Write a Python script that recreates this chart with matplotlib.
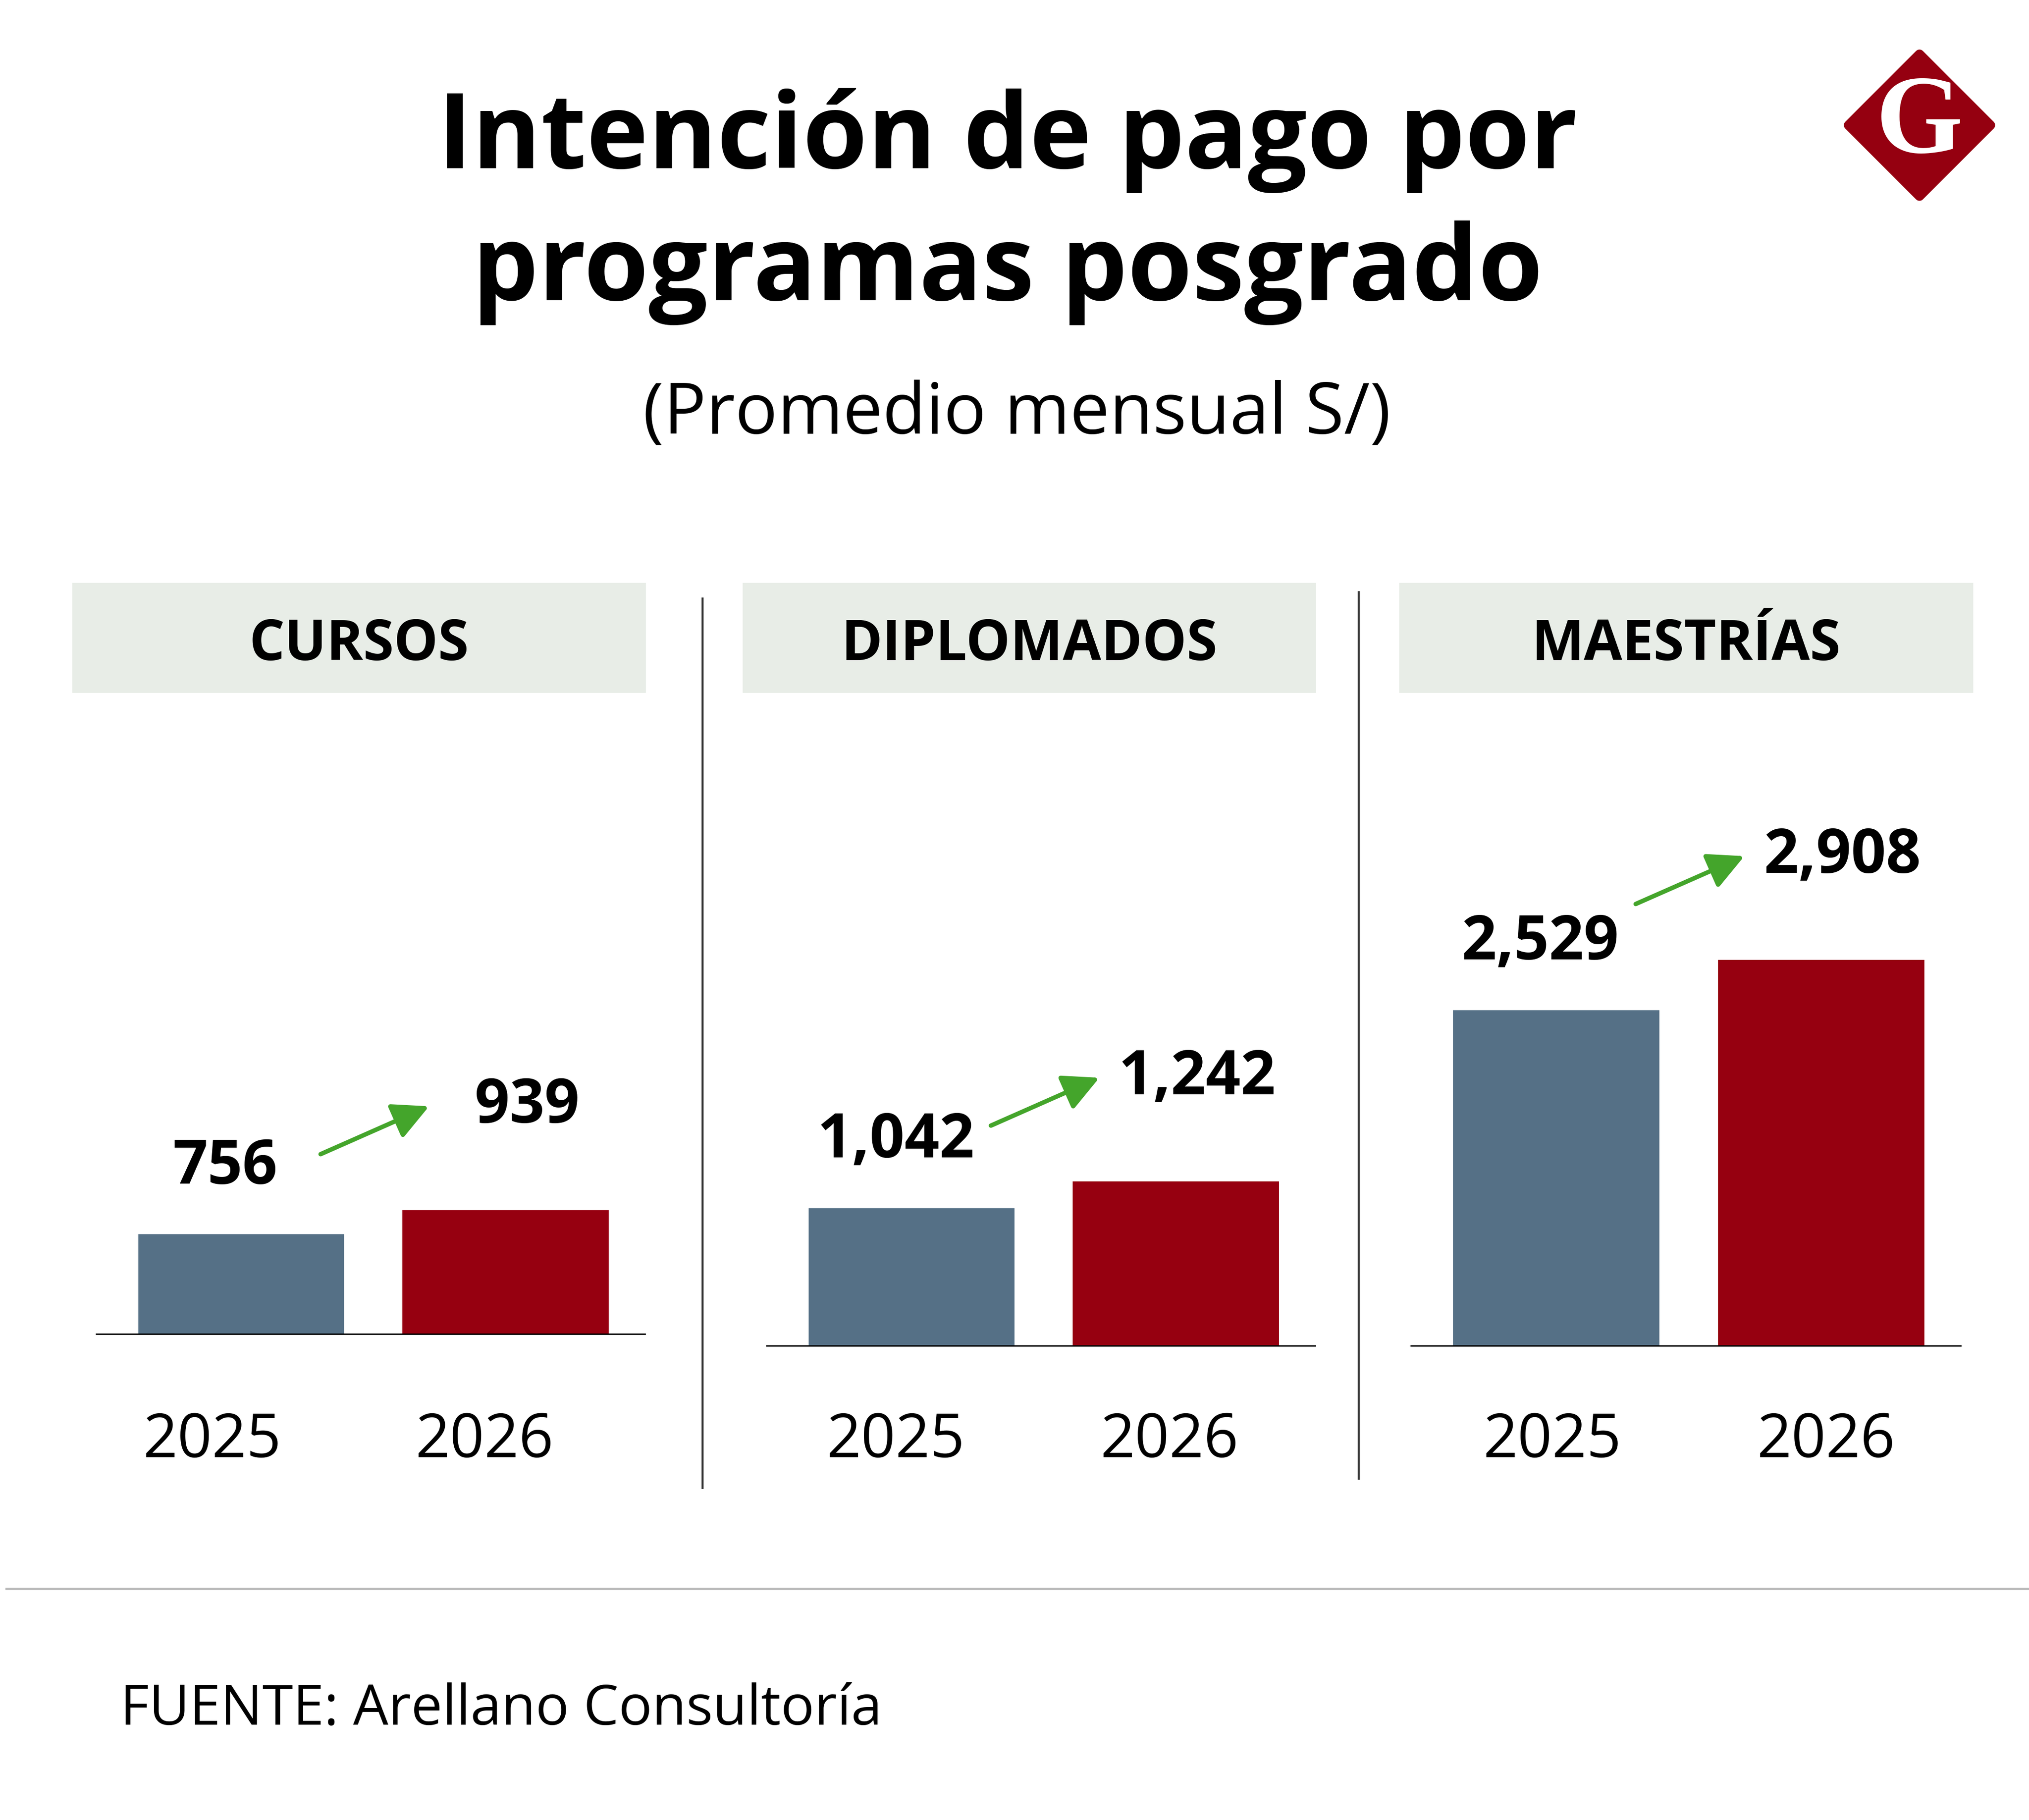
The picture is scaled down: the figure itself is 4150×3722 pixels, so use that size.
import matplotlib
matplotlib.use('Agg')
import matplotlib.pyplot as plt
from matplotlib.patches import Rectangle, Polygon
from matplotlib.lines import Line2D

plt.rcParams['font.family'] = ['Open Sans', 'DejaVu Sans']

categorias = ['CURSOS', 'DIPLOMADOS', 'MAESTRÍAS']
anios = ['2025', '2026']
valores_2025 = [756, 1042, 2529]
valores_2026 = [939, 1242, 2908]

AZUL = '#557086'
ROJO = '#960010'
VERDE = '#44A52B'
CAJA = '#E8EDE7'

W, H = 4150, 3723
fig = plt.figure(figsize=(W / 100, H / 100), dpi=100)

def fx(x):
    return x / W

def fy(y):
    return 1 - y / H

# titulo
fig.text(fx(2061), fy(344), 'Intención de pago por', ha='center', va='baseline',
         fontsize=154, fontweight='bold')
fig.text(fx(2061), fy(614), 'programas posgrado', ha='center', va='baseline',
         fontsize=154, fontweight='bold')
fig.text(fx(2080), fy(887), '(Promedio mensual S/)', ha='center', va='baseline',
         fontsize=104)

# logo
d = 145
cx, cy = 3926, 257
diamante = Polygon([(fx(cx), fy(cy - d)), (fx(cx + d), fy(cy)),
                    (fx(cx), fy(cy + d)), (fx(cx - d), fy(cy))],
                   closed=True, transform=fig.transFigure, facecolor='#950010',
                   edgecolor='#950010', lw=14, joinstyle='round')
fig.patches.append(diamante)
fig.text(fx(cx), fy(cy), 'G', ha='center', va='center', color='white',
         fontsize=165, fontweight='bold', family=['Liberation Serif', 'DejaVu Serif'])

# paneles: (inicio linea, fin linea, base, inicio caja, fin caja, posiciones de los años)
paneles = [(196, 1321, 2731, 148, 1321, (-0.11, 0.92)),
           (1567, 2692, 2755, 1519, 2692, (-0.06, 0.975)),
           (2885, 4012, 2755, 2862, 4036, (-0.015, 1.02))]
px_unidad = 0.272
ymax = 3300

for i, (x0, x1, base, b0, b1, pos_anios) in enumerate(paneles):
    alto = ymax * px_unidad
    ax = fig.add_axes([fx(x0), fy(base), (x1 - x0) / W, alto / H])
    v0, v1 = valores_2025[i], valores_2026[i]
    ax.bar([0, 1], [v0, v1], width=0.78, color=[AZUL, ROJO])
    ax.set_xlim(-0.55, 1.53)
    ax.set_ylim(0, ymax)
    ax.axhline(0, color='black', lw=5, zorder=5)
    for s in ax.spines.values():
        s.set_visible(False)
    ax.set_yticks([])
    pad = ((2885 - base) / 1.389)
    ax.set_xticks(list(pos_anios), anios, fontsize=89)
    ax.tick_params(axis='x', length=0, pad=pad)
    ax.text(0 - 0.06, v0 + 385, f'{v0:,}', ha='center', va='baseline',
            fontsize=90, fontweight='bold')
    ax.text(1 + 0.08, v1 + 660, f'{v1:,}', ha='center', va='baseline',
            fontsize=90, fontweight='bold')
    fin = v1 + 780
    ax.annotate('', xy=(0.71, fin), xytext=(0.3, fin - 360),
                annotation_clip=False,
                arrowprops=dict(arrowstyle='-|>,head_length=0.75,head_width=0.38',
                                mutation_scale=60, lw=6.5, color=VERDE,
                                shrinkA=0, shrinkB=0))
    # caja de categoria
    fig.patches.append(Rectangle((fx(b0), fy(1418)), (b1 - b0) / W, 225 / H,
                                 transform=fig.transFigure, facecolor=CAJA,
                                 edgecolor='none'))
    fig.text(fx((b0 + b1) / 2), fy(1350), categorias[i], ha='center', va='baseline',
             fontsize=82, fontweight='bold')

# separadores verticales
for x, y0, y1 in [(1437, 1225, 3044), (2779, 1212, 3025)]:
    fig.add_artist(Line2D([fx(x), fx(x)], [fy(y0), fy(y1)], color='#333333', lw=3,
                          transform=fig.transFigure))

# linea gris y fuente
fig.add_artist(Line2D([fx(13), fx(W)], [fy(3250), fy(3250)], color='#BBBBBB', lw=3.5,
                      transform=fig.transFigure))
fig.text(fx(246), fy(3527), 'FUENTE: Arellano Consultoría', ha='left', va='baseline',
         fontsize=82)

fig.savefig('out.png', dpi=100, facecolor='white')
